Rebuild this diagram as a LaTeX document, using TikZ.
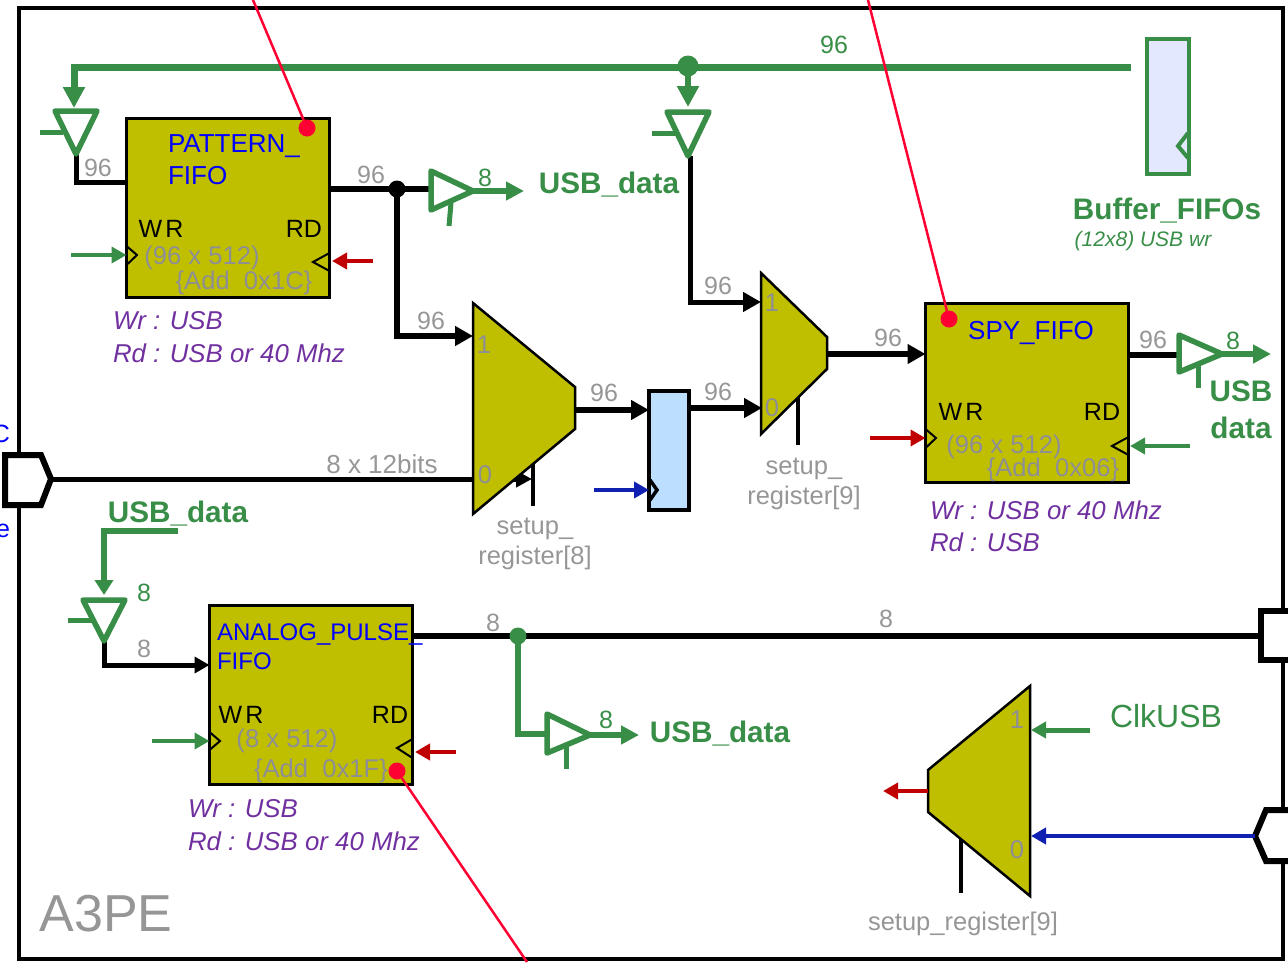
\documentclass[tikz,border=0pt]{standalone}
\usepackage{fontspec}
\setmainfont{Liberation Sans}
\usetikzlibrary{arrows.meta,calc}
\definecolor{fifoolive}{HTML}{BFBF00}
\definecolor{wiregreen}{HTML}{388E47}
\definecolor{wirered}{HTML}{C00000}
\definecolor{wireblue}{HTML}{1020B0}
\definecolor{notegray}{HTML}{969696}
\definecolor{sizegray}{HTML}{8E8E96}
\definecolor{notepurple}{HTML}{7030A0}
\definecolor{probered}{HTML}{FF0033}
\definecolor{regblue}{HTML}{BDDFFF}
\definecolor{bufblue}{HTML}{E3E8FF}

\begin{document}
\begin{tikzpicture}[
  x=1pt, y=-1pt,
  every node/.style={inner sep=0pt, outer sep=0pt},
  font=\fontsize{25}{30}\selectfont,
  fifo/.style={draw=black, line width=2.5pt, fill=fifoolive, minimum width=203pt, minimum height=179pt},
  mux/.style={draw=black, line width=2.5pt, fill=fifoolive, line join=miter},
  reg/.style={draw=black, line width=4.5pt, fill=regblue, minimum width=40pt, minimum height=119pt},
  bufstore/.style={draw=wiregreen, line width=4pt, fill=bufblue, minimum width=42pt, minimum height=135pt},
  port/.style={draw=black, line width=6pt, fill=white, line join=miter},
  buf/.style={draw=wiregreen, line width=5.5pt, line join=round},
  chev/.style={draw=black, line width=2pt},
  dat/.style={draw=black, line width=6pt, line join=miter},
  datarr/.style={dat, -{Triangle[length=18pt,width=19pt]}},
  grn/.style={draw=wiregreen, line width=6pt},
  grnarr/.style={grn, -{Triangle[length=18pt,width=18pt]}},
  clkgrn/.style={draw=wiregreen, line width=4.5pt, -{Triangle[length=15pt,width=16pt]}},
  clkred/.style={draw=wirered, line width=4.5pt, -{Triangle[length=15pt,width=16pt]}},
  clkblue/.style={draw=wireblue, line width=4.5pt, -{Triangle[length=15pt,width=16pt]}},
  sel/.style={draw=black, line width=3.5pt},
  probe/.style={draw=probered, line width=2.5pt},
  dot/.style={circle, minimum size=17pt},
  width/.style={text=notegray, yshift=-1pt},
  widthg/.style={text=wiregreen, yshift=-1pt},
  title/.style={text=blue, anchor=west, align=left},
  size/.style={text=sizegray, yshift=-2pt, font=\fontsize{25.6}{30}\selectfont},
  rate/.style={text=notepurple, anchor=west, font=\fontsize{25.8}{30}\selectfont\itshape},
  bus/.style={text=wiregreen, yshift=-1pt, font=\fontsize{29.7}{36}\selectfont\bfseries},
  sellbl/.style={text=notegray, font=\fontsize{25.5}{30}\selectfont},
]
  \useasboundingbox (0,0) rectangle (1288,962);

  % Outer frame
  \node[draw=black, line width=4pt, minimum width=1264pt, minimum height=951pt] (a3pe) at (651,483.5) {};
  \node[text=notegray, font=\fontsize{52}{60}\selectfont] (a3pelbl) at (106,914) {A3PE};
  \node[text=blue, anchor=east] (cutc) at (10,434) {C};
  \node[text=blue, anchor=east] (cute) at (10,531) {e};

  % Blocks
  \node[fifo] (pattern) at (228,208) {};
  \node[fifo] (spy) at (1027,393) {};
  \node[fifo] (analog) at (311,695) {};
  \node[reg] (shift) at (669,450.5) {};
  \node[bufstore] (store) at (1167.5,106) {};

  % Points on the wires
  \coordinate (portin) at (51,479);
  \coordinate (portclk) at (1255,836);
  \coordinate (bufa) at (76,154);
  \coordinate (bufb) at (688,156);
  \coordinate (bufc) at (473,191);
  \coordinate (bufd) at (1222,354);
  \coordinate (bufe) at (104,641);
  \coordinate (buff) at (590,735);
  \coordinate (usbin) at (178,531);
  \coordinate (busend) at (1131,67);
  \coordinate (splitpat) at (397,189);
  \coordinate (splitbus) at (688,66);
  \coordinate (splitana) at (518,636);

  % Green bus
  \draw[grn, line width=7pt, -{Triangle[length=21pt,width=21pt]}] (busend) -- (74,67) -- (74,108);
  \draw[grn, -{Triangle[length=21pt,width=21pt]}] (splitbus) -- (688,107);
  \draw[grn, -{Triangle[length=15pt,width=18pt]}] (usbin) -| (104,595);
  \draw[grn] (splitana) |- (547,734);

  % Data wires
  \draw[dat, line width=5pt] (bufa) |- (pattern.west |- 0,182);
  \draw[dat] (pattern.east |- splitpat) -- (431,189);
  \draw[datarr] (splitpat) |- (473,336);
  \draw[dat, line width=5pt, -{Triangle[length=16pt,width=16pt]}] (portin) -- (532,479);
  \draw[datarr, line width=5pt] (690,156) -- (690,302) -- (761,302);
  \draw[datarr] (575,410) -- (shift.west |- 0,410);
  \draw[datarr] (shift.east |- 0,408) -- (762,408);
  \draw[datarr] (827,354) -- (spy.west |- 0,354);
  \draw[dat] (spy.east |- 0,355) -- (1178,355);
  \draw[dat, line width=5pt, -{Triangle[length=15pt,width=16pt]}] (bufe) |- (analog.west |- 0,665);
  \draw[dat] (analog.east |- splitana) -- (1259,636);

  % Ports
  \draw[port] (5,455) -- (41,455) -- (portin) -- (41,505) -- (5,505) -- cycle;
  \draw[port] (1288,611) -- (1261,611) -- (1261,660) -- (1288,660);
  \draw[port, fill=white] (1288,810) -- (1266,810) -- (portclk) -- (1266,861) -- (1288,861);

  % Muxes
  \draw[sel] (533,460) -- (533,506);
  \draw[sel] (798,395) -- (798,445);
  \draw[sel] (961,835) -- (961,893);
  \draw[mux] (473,303) -- (575,387) -- (575,429) -- (473,514) -- cycle;
  \draw[mux] (761,273) -- (827,337) -- (827,369) -- (761,434) -- cycle;
  \draw[mux] (1030,686) -- (1030,896) -- (928,812) -- (928,770) -- cycle;

  % Tri-state buffers
  \draw[buf, fill=white] (55,111) -- (97,111) -- (bufa) -- cycle;
  \draw[grn, line width=5pt] (40,132) -- (63,132);
  \draw[buf, fill=white] (667,112) -- (709,112) -- (bufb) -- cycle;
  \draw[grn, line width=5pt] (652,133) -- (676,133);
  \draw[buf, fill=white] (431,171) -- (431,210) -- (bufc) -- cycle;
  \draw[grn, line width=5pt] (451,203) -- (449,226);
  \draw[buf, fill=white] (1179,335) -- (1179,372) -- (bufd) -- cycle;
  \draw[grn, line width=5pt] (1198,365) -- (1198,388);
  \draw[buf, fill=white] (83,600) -- (125,600) -- (bufe) -- cycle;
  \draw[grn, line width=5pt] (68,620) -- (92,620);
  \draw[buf, fill=white] (547,714) -- (547,753) -- (buff) -- cycle;
  \draw[grn, line width=5pt] (566,746) -- (566,769);
  \draw[grnarr] (bufc) -- (524,191);
  \draw[grnarr] (bufd) -- (1271,354);
  \draw[grnarr] (buff) -- (639,735);

  % Splice dots
  \node[dot, fill=black] (dotpat) at (splitpat) {};
  \node[dot, fill=wiregreen, minimum size=21pt] (dotbus) at (splitbus) {};
  \node[dot, fill=wiregreen] (dotana) at (splitana) {};

  % Clock pins
  \draw[chev] ([yshift=9pt]pattern.west |- 0,255) -- (137,255) -- ([yshift=-10pt]pattern.west |- 0,255);
  \draw[chev] ([yshift=9pt]pattern.east |- 0,262) -- (313,262) -- ([yshift=-9pt]pattern.east |- 0,262);
  \draw[chev] ([yshift=9pt]spy.west |- 0,438) -- (936,438) -- ([yshift=-10pt]spy.west |- 0,438);
  \draw[chev] ([yshift=9pt]spy.east |- 0,446) -- (1112,446) -- ([yshift=-9pt]spy.east |- 0,446);
  \draw[chev] ([yshift=9pt]analog.west |- 0,741) -- (220,741) -- ([yshift=-9pt]analog.west |- 0,741);
  \draw[chev] ([yshift=9pt]analog.east |- 0,748) -- (397,748) -- ([yshift=-10pt]analog.east |- 0,748);
  \draw[chev, line width=3.5pt] (650,480) -- (657,490) -- (650,500);
  \draw[draw=wiregreen, line width=4pt] (1188,133) -- (1178,146) -- (1188,158);

  \draw[clkgrn] (71,255) -- (pattern.west |- 0,255);
  \draw[clkred] (373,261) -- (332,261);
  \draw[clkred] (870,438) -- (spy.west |- 0,438);
  \draw[clkgrn] (1190,446) -- (1130,446);
  \draw[clkgrn] (152,741) -- (analog.west |- 0,741);
  \draw[clkred] (456,752) -- (415,752);
  \draw[clkblue] (594,490) -- (shift.west |- 0,490);
  \draw[clkgrn, line width=5pt] (1090,730) -- (1031,730);
  \draw[clkblue] (portclk) -- (1031,836);
  \draw[clkred] (928,791) -- (883,791);

  % Probes
  \node[dot, fill=probered] (probepat) at (307,128) {};
  \node[dot, fill=probered] (probespy) at (949,319) {};
  \node[dot, fill=probered] (probeana) at (397,771) {};
  \draw[probe] (253,0) -- (probepat);
  \draw[probe] (868,0) -- (probespy);
  \draw[probe] (probeana) -- (527,962);

  % Block texts
  \node[title, font=\fontsize{26}{32}\selectfont] (patname) at (168,160) {PATTERN\_\\FIFO};
  \node (patwr) at (161,229) {W\kern3pt R};
  \node (patrd) at (304,229) {RD};
  \node[size] (patsize) at (202,256) {(96 x 512)};
  \node[size] (patadd) at (244,281) {\{Add~~0x1C\}};
  \node[rate] (patrwr) at (113,321) {Wr : USB};
  \node[rate] (patrrd) at (113,353) {Rd : USB or 40 Mhz};

  \node[text=blue, font=\fontsize{26}{30}\selectfont] (spyname) at (1031,333) {SPY\_FIFO};
  \node (spywr) at (961,412) {W\kern3pt R};
  \node (spyrd) at (1102,412) {RD};
  \node[size] (spysize) at (1004,445) {(96 x 512)};
  \node[size] (spyadd) at (1053,468) {\{Add~~0x06\}};
  \node[rate] (spyrwr) at (930,510) {Wr : USB or 40 Mhz};
  \node[rate] (spyrrd) at (930,542) {Rd : USB};

  \node[title, font=\fontsize{24}{29}\selectfont] (ananame) at (217,647) {ANALOG\_PULSE\_\\FIFO};
  \node (anawr) at (241,715) {W\kern3pt R};
  \node (anard) at (390,715) {RD};
  \node[size] (anasize) at (287,739) {(8 x 512)};
  \node[size] (anaadd) at (321,769) {\{Add~~0x1F\}};
  \node[rate] (anarwr) at (188,809) {Wr : USB};
  \node[rate] (anarrd) at (188,841) {Rd : USB or 40 Mhz};

  % Bus names
  \node[bus] (usbpat) at (609,184) {USB\_data};
  \node[bus, align=center, font=\fontsize{29.7}{37}\selectfont\bfseries] (usbspy) at (1241,409) {USB\\data};
  \node[bus] (usbin lbl) at (178,513) {USB\_data};
  \node[bus] (usbana) at (720,733) {USB\_data};
  \node[bus] (storelbl) at (1167,210) {Buffer\_FIFOs};
  \node[text=wiregreen, font=\fontsize{21}{25}\selectfont\itshape] (storenote) at (1143,241) {(12x8) USB wr};
  \node[text=wiregreen, font=\fontsize{32}{36}\selectfont] (clkusb) at (1166,716) {ClkUSB};

  % Wire widths
  \node[widthg] (w96bus) at (834,44) {96};
  \node[width] (w96a) at (98,167) {96};
  \node[width] (w96b) at (371,174) {96};
  \node[widthg] (w8a) at (485,177) {8};
  \node[width] (w96c) at (431,320) {96};
  \node[width, font=\fontsize{26}{30}\selectfont] (w12) at (382,463) {8 x 12bits};
  \node[width] (w96d) at (604,392) {96};
  \node[width] (w96e) at (718,391) {96};
  \node[width] (w96f) at (718,285) {96};
  \node[width] (w96g) at (888,337) {96};
  \node[width] (w96h) at (1153,339) {96};
  \node[widthg] (w8b) at (1233,340) {8};
  \node[widthg] (w8c) at (144,592) {8};
  \node[width] (w8d) at (144,648) {8};
  \node[width] (w8e) at (493,622) {8};
  \node[width] (w8f) at (886,618) {8};
  \node[widthg] (w8g) at (606,719) {8};

  % Mux texts
  \node[size] (m1a) at (484,343) {1};
  \node[size] (m0a) at (485,473) {0};
  \node[size] (m1b) at (772,301) {1};
  \node[size] (m0b) at (772,406) {0};
  \node[size] (m1c) at (1017,718) {1};
  \node[size] (m0c) at (1017,848) {0};
  \node[sellbl, align=center] (sela) at (535,544) {setup\_\\register[8]};
  \node[sellbl, align=center] (selb) at (804,484) {setup\_\\register[9]};
  \node[sellbl] (selc) at (963,924) {setup\_register[9]};
\end{tikzpicture}
\end{document}
